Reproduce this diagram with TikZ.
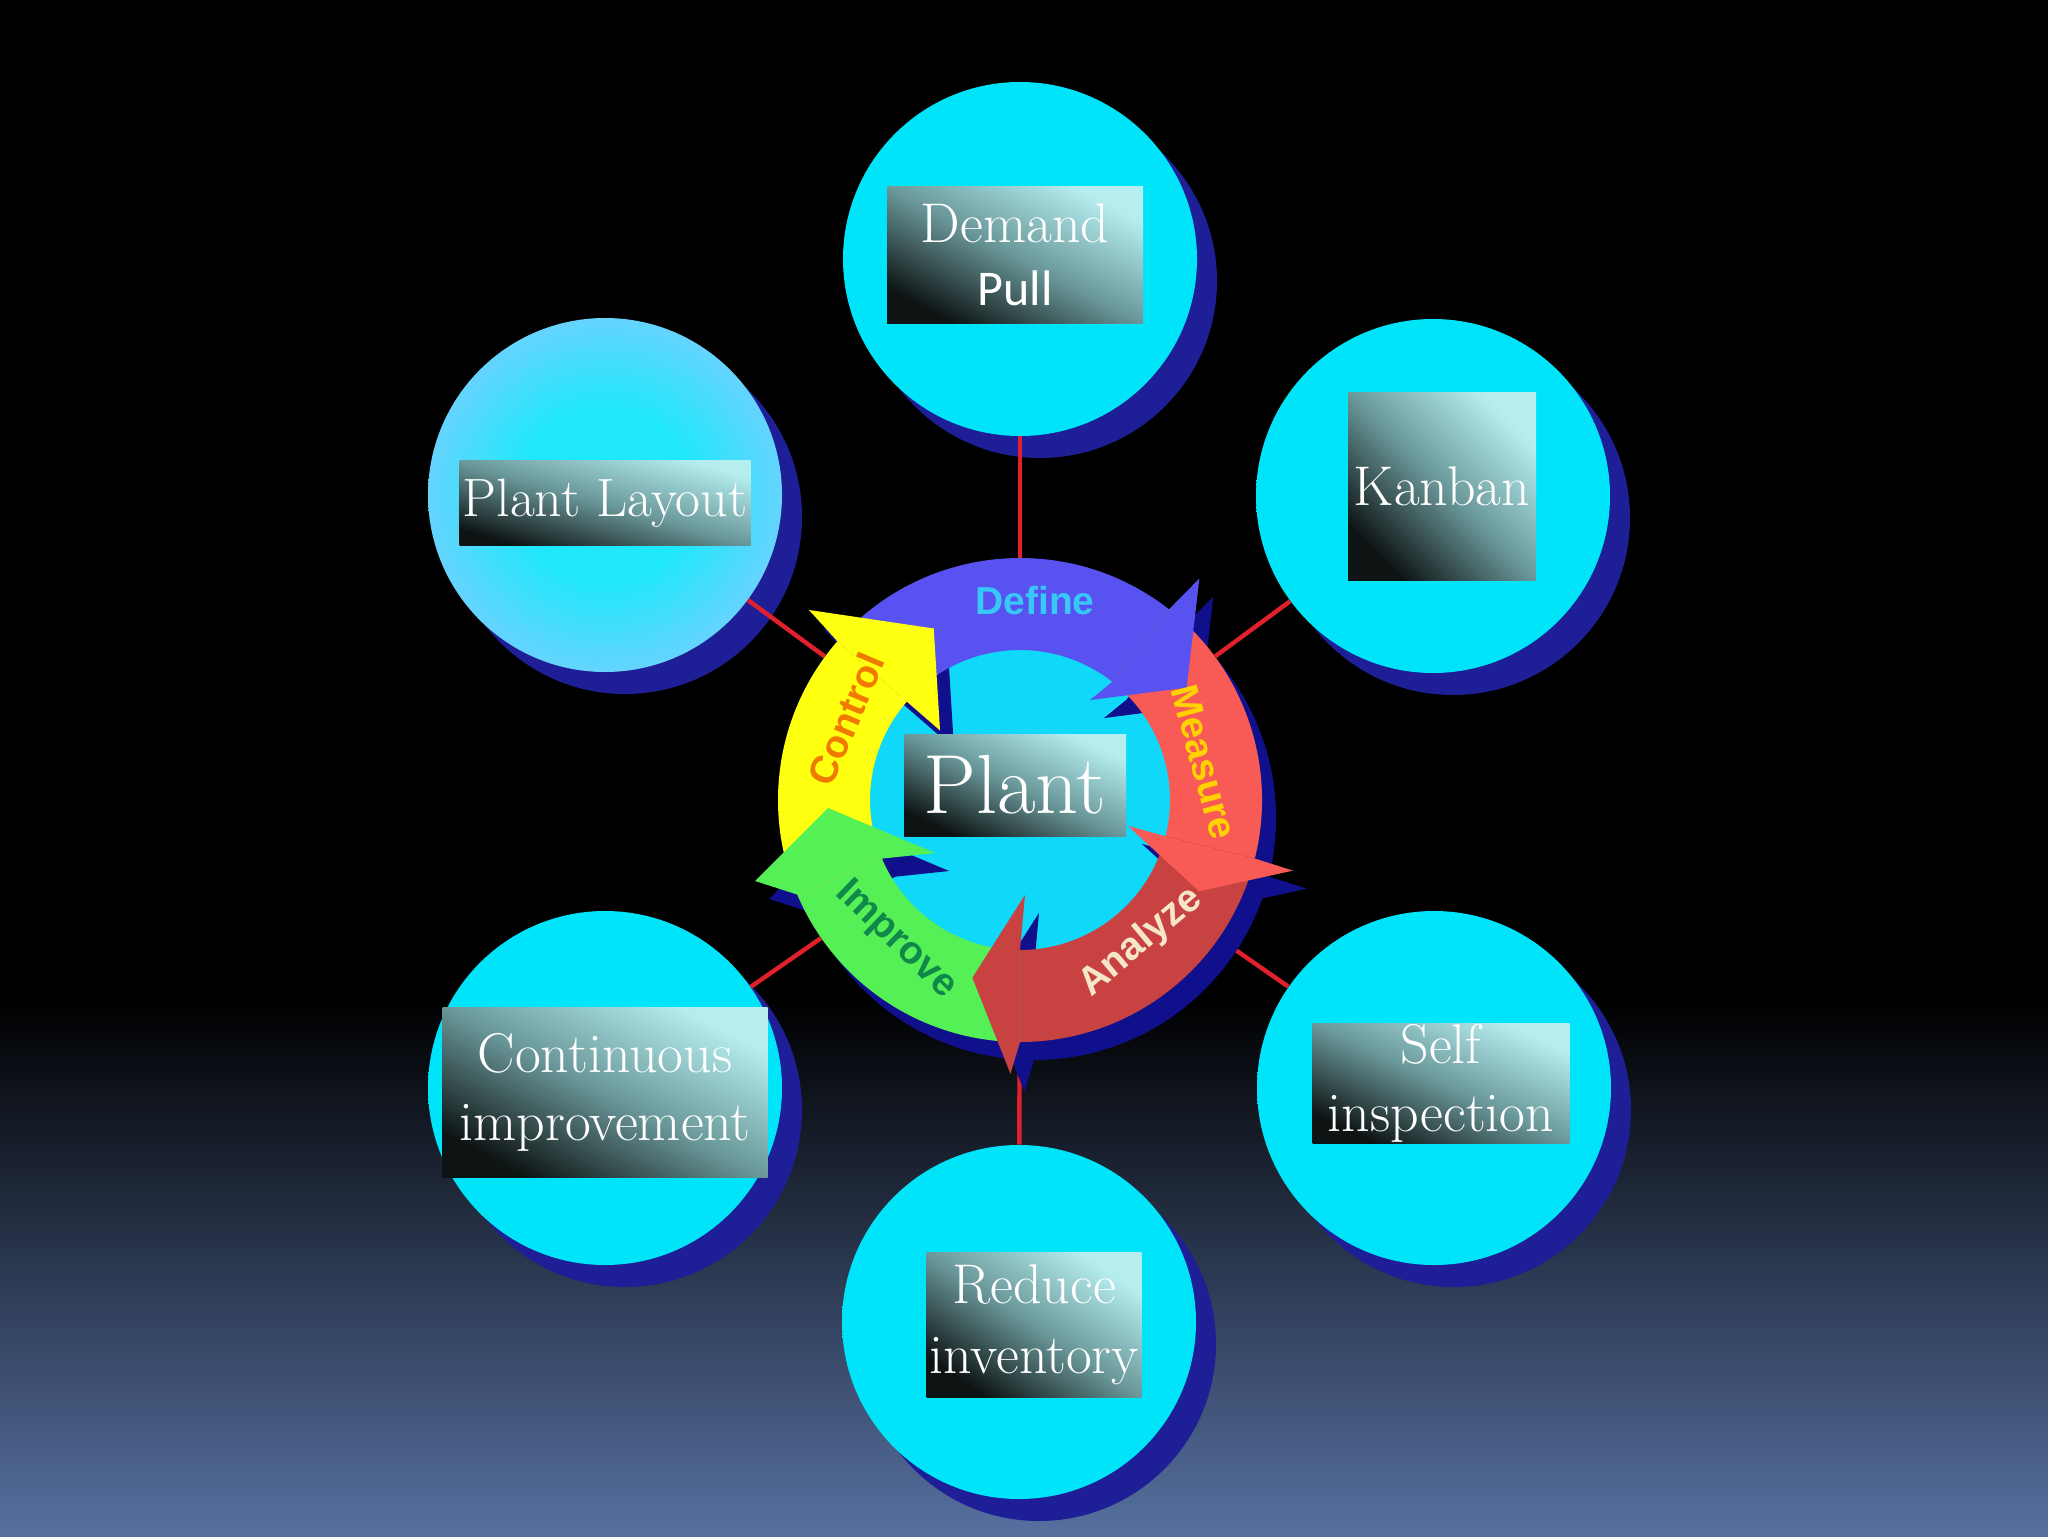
\documentclass[tikz,border=0pt]{standalone}
\usepackage{amsmath,amssymb}
\usepackage{fontspec}
\newfontfamily\pullfont{Carlito}
\newfontfamily\dmaicfont{Liberation Sans}
\usetikzlibrary{shadows}

\definecolor{bgblue}{RGB}{86,112,160}
\definecolor{bubblein}{RGB}{0,228,250}
\definecolor{bubbleout}{RGB}{24,196,238}
\definecolor{layoutin}{RGB}{30,232,250}
\definecolor{layoutout}{RGB}{150,198,255}
\definecolor{bubbleshadow}{RGB}{30,30,150}
\definecolor{ringshadow}{RGB}{16,16,140}
\definecolor{boxlight}{RGB}{182,238,240}
\definecolor{boxmid}{RGB}{106,152,154}
\definecolor{boxdark}{RGB}{14,20,20}
\definecolor{linkred}{RGB}{224,32,44}
\definecolor{hubcyan}{RGB}{16,216,248}
\definecolor{definefill}{RGB}{88,82,240}
\definecolor{measurefill}{RGB}{248,90,85}
\definecolor{analyzefill}{RGB}{200,66,66}
\definecolor{improvefill}{RGB}{85,240,85}
\definecolor{controlfill}{RGB}{255,255,16}
\definecolor{definetext}{RGB}{56,200,248}
\definecolor{measuretext}{RGB}{255,210,0}
\definecolor{analyzetext}{RGB}{245,230,200}
\definecolor{improvetext}{RGB}{16,136,74}
\definecolor{controltext}{RGB}{240,122,0}

\pgfdeclareradialshading{bubbleshade}{\pgfpoint{0bp}{0bp}}{color(0bp)=(bubblein); color(25bp)=(bubblein); color(50bp)=(bubbleout)}
\pgfdeclareradialshading{layoutshade}{\pgfpoint{0bp}{0bp}}{color(0bp)=(layoutin); color(12bp)=(layoutin); color(34bp)=(layoutout); color(50bp)=(layoutout)}

\tikzset{
  bubble/.style={circle, minimum size=177pt, inner sep=0pt, shading=bubbleshade,
    drop shadow={shadow xshift=10pt, shadow yshift=-11pt, fill=bubbleshadow, opacity=1}},
  labelbox/.style={rectangle, inner sep=0pt, text=white, align=center,
    top color=boxlight, bottom color=boxdark, middle color=boxmid, shading angle=#1,
    font=\fontsize{28}{34}\selectfont},
  labelbox/.default=-45,
  steplabel/.style={font=\dmaicfont\bfseries\fontsize{19.5}{20}\selectfont, inner sep=0pt},
  link/.style={draw=linkred, line width=2.2pt}
}

\begin{document}
\begin{tikzpicture}[x=0.5pt,y=0.5pt,yscale=-1,xscale=1]
\useasboundingbox (0,0) rectangle (2048,1536);

%Shape: Rectangle [background]
\fill[black] (0,0) rectangle (2048,1536);
\shade[top color=black, bottom color=bgblue] (0,1000) rectangle (2048,1536);

%Shape: Circle [Demand Pull]
\node[bubble] (demand) at (1020,259) {};
% Text Node
\node[labelbox=-28, minimum width=128pt, minimum height=68.5pt, font=\fontsize{28}{31.5}\selectfont] (demandtext) at (1015,255) {Demand\\{\pullfont\fontsize{25}{31.5}\selectfont Pull}};

%Shape: Circle [Plant Layout]
\node[bubble, shading=layoutshade] (layout) at (605,495) {};
% Text Node
\node[labelbox=-16, minimum width=145.5pt, minimum height=42.5pt, font=\fontsize{27}{34}\selectfont] (layouttext) at (605,503) {Plant Layout};

%Shape: Circle [Kanban]
\node[bubble] (kanban) at (1433,496) {};
% Text Node
\node[labelbox=-45, minimum width=94pt, minimum height=94pt] (kanbantext) at (1442,486) {Kanban};

%Shape: Circle [Continuous improvement]
\node[bubble] (continuous) at (605,1088) {};
% Text Node
\node[labelbox=-28, minimum width=162.5pt, minimum height=85pt] (continuoustext) at (605,1092) {Continuous\\improvement};

%Shape: Circle [Self inspection]
\node[bubble] (selfinsp) at (1434,1088) {};
% Text Node
\node[labelbox=-25, minimum width=128.5pt, minimum height=60pt] (selfinsptext) at (1441,1083) {Self\\inspection};

%Shape: Circle [Reduce inventory]
\node[bubble] (reduce) at (1019,1322) {};
% Text Node
\node[labelbox=-34, minimum width=107.5pt, minimum height=72.5pt, font=\fontsize{28}{35}\selectfont] (reducetext) at (1034,1325) {Reduce\\inventory};

%Shape: Circle [cycle]
\node[circle, minimum size=242pt, inner sep=0pt] (hub) at (1020,800) {};

% Links
\draw[link] (hub) -- (demand);
\draw[link] (hub) -- (layout);
\draw[link] (hub) -- (kanban);
\draw[link] (hub) -- (continuous);
\draw[link] (hub) -- (selfinsp);
\draw[link] (hub) -- (reduce);

\begin{scope}[shift={(1020,800)}, yscale=-1]
  %Shape: Ring shadow
  \fill[ringshadow, even odd rule] (14,-18) circle (242) (14,-18) circle (150);
  %Shape: Circle
  \fill[hubcyan] (0,0) circle (155);
  %Shape: Heads shadow
  \begin{scope}[shift={(14,-18)}]
    \fill[ringshadow] (52:242) -- (51:285) -- (34:201) -- (55:122) -- (52:150) -- cycle;
    \fill[ringshadow] (-14:242) -- (-14.5:282) -- (-27:201) -- (-13.5:111) -- (-14:150) -- cycle;
    \fill[ringshadow] (-90:242) -- (-92:274) -- (-105:184) -- (-87:95) -- (-90:150) -- cycle;
    \fill[ringshadow] (203:242) -- (197:277) -- (182.4:192) -- (212:100) -- (203:150) -- cycle;
    \fill[ringshadow] (139:242) -- (138:284) -- (116.7:192) -- (139:106) -- (139:150) -- cycle;
  \end{scope}

  %Shape: Arc [Define]
  \fill[definefill] (139:242) arc[start angle=139, end angle=52, radius=242] -- (52:150) arc[start angle=52, end angle=139, radius=150] -- cycle;
  %Shape: Arc [Measure]
  \fill[measurefill] (52:242) arc[start angle=52, end angle=-14, radius=242] -- (-14:150) arc[start angle=-14, end angle=52, radius=150] -- cycle;
  %Shape: Arc [Analyze]
  \fill[analyzefill] (-14:242) arc[start angle=-14, end angle=-90, radius=242] -- (-90:150) arc[start angle=-90, end angle=-14, radius=150] -- cycle;
  %Shape: Arc [Improve]
  \fill[improvefill] (-90:242) arc[start angle=-90, end angle=-157, radius=242] -- (-157:150) arc[start angle=-157, end angle=-90, radius=150] -- cycle;
  %Shape: Arc [Control]
  \fill[controlfill] (203:242) arc[start angle=203, end angle=139, radius=242] -- (139:150) arc[start angle=139, end angle=203, radius=150] -- cycle;

  %Shape: Arrow heads
  \fill[definefill] (52:242) -- (51:285) -- (34:201) -- (55:122) -- (52:150) -- cycle;
  \fill[measurefill] (-14:242) -- (-14.5:282) -- (-27:201) -- (-13.5:111) -- (-14:150) -- cycle;
  \fill[analyzefill] (-90:242) -- (-92:274) -- (-105:184) -- (-87:95) -- (-90:150) -- cycle;
  \fill[improvefill] (203:242) -- (197:277) -- (182.4:192) -- (212:100) -- (203:150) -- cycle;
  \fill[controlfill] (139:242) -- (138:284) -- (116.7:192) -- (139:106) -- (139:150) -- cycle;

  % Text Node
  \node[steplabel, text=definetext] (definelabel) at (15,199) {Define};
  % Text Node
  \node[steplabel, text=measuretext, rotate=-75] (measurelabel) at (184,38) {Measure};
  % Text Node
  \node[steplabel, text=analyzetext, rotate=40] (analyzelabel) at (121,-142) {Analyze};
  % Text Node
  \node[steplabel, text=improvetext, rotate=-44] (improvelabel) at (-124,-140) {Improve};
  % Text Node
  \node[steplabel, text=controltext, rotate=67] (controllabel) at (-174,81) {Control};
\end{scope}

% Text Node
\node[labelbox=-25, minimum width=111pt, minimum height=51pt, font=\fontsize{42}{44}\selectfont] (plant) at (1015,785) {Plant};

\end{tikzpicture}
\end{document}
